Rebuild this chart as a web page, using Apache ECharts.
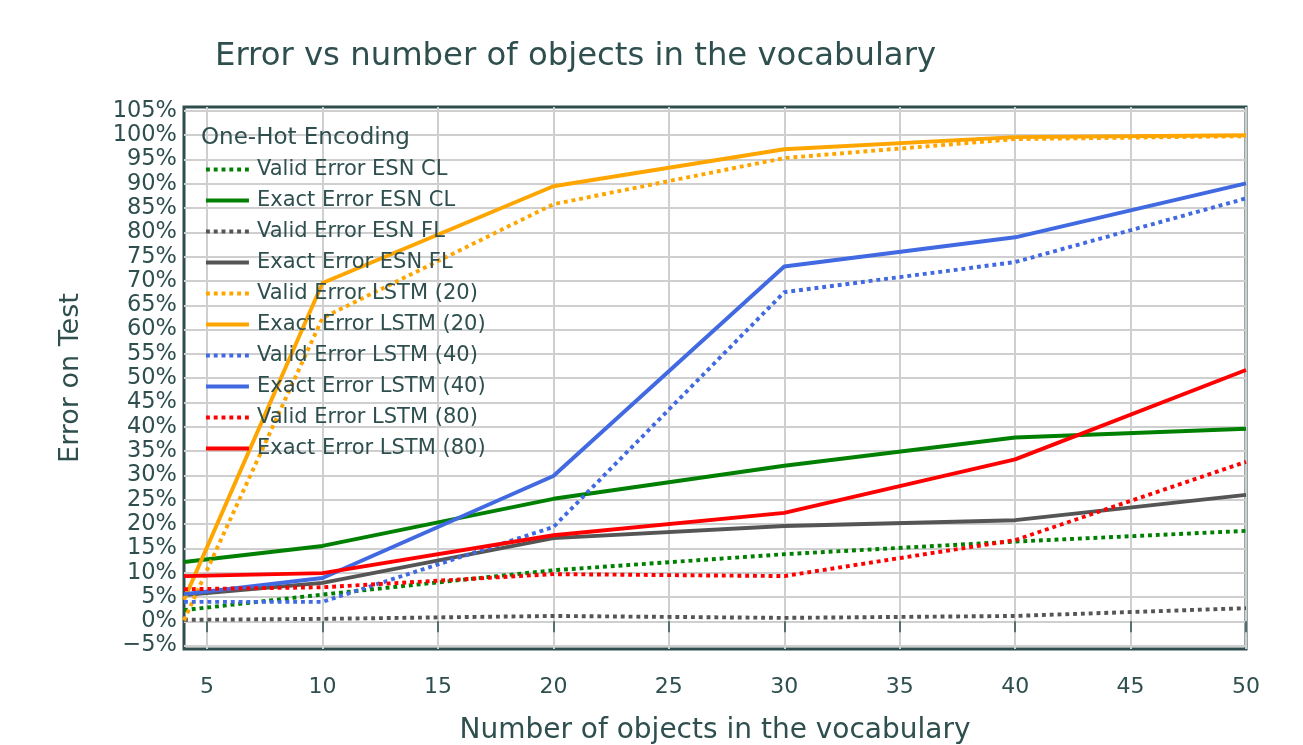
<!DOCTYPE html>
<html>
<head>
<meta charset="utf-8">
<script src="https://cdn.jsdelivr.net/npm/echarts@6/dist/echarts.min.js"></script>
<style>
html,body{margin:0;padding:0;background:#fff;overflow:hidden;}
#c{width:1303px;height:745px;}
</style>
</head>
<body>
<div id="c"></div>
<script>
const objects = [4, 10, 20, 30, 40, 50];
const validEsnCl  = [2.3, 5.5, 10.5, 13.8, 16.4, 18.6];
const exactEsnCl  = [12.2, 15.5, 25.2, 32.0, 37.8, 39.6];
const validEsnFl  = [0.3, 0.5, 1.1, 0.7, 1.1, 2.7];
const exactEsnFl  = [5.4, 7.9, 17.1, 19.6, 20.8, 26.0];
const validLstm20 = [0.2, 62.4, 85.8, 95.3, 99.2, 99.8];
const exactLstm20 = [4.4, 69.6, 89.5, 97.1, 99.6, 100];
const validLstm40 = [4.0, 4.0, 19.4, 67.7, 73.9, 87.0];
const exactLstm40 = [5.6, 8.9, 29.9, 73.0, 79.0, 90.1];
const validLstm80 = [6.6, 7.0, 9.7, 9.3, 16.7, 32.8];
const exactLstm80 = [9.3, 9.9, 17.7, 22.3, 33.3, 51.7];

const xTicks = [5, 10, 15, 20, 25, 30, 35, 40, 45, 50];
const yTicks = [-5, 0, 5, 10, 15, 20, 25, 30, 35, 40, 45, 50, 55, 60, 65, 70, 75, 80, 85, 90, 95, 100, 105];

const TXT = '#2F4F4F';
const FONT = 'DejaVu Sans';
const LW = 3.9;

const seriesDefs = [
  ['Valid Error ESN CL', validEsnCl, '#008000', 'dot'],
  ['Exact Error ESN CL', exactEsnCl, '#008000', 'solid'],
  ['Valid Error ESN FL', validEsnFl, '#555555', 'dot'],
  ['Exact Error ESN FL', exactEsnFl, '#555555', 'solid'],
  ['Valid Error LSTM (20)', validLstm20, '#FFA500', 'dot'],
  ['Exact Error LSTM (20)', exactLstm20, '#FFA500', 'solid'],
  ['Valid Error LSTM (40)', validLstm40, '#4169E1', 'dot'],
  ['Exact Error LSTM (40)', exactLstm40, '#4169E1', 'solid'],
  ['Valid Error LSTM (80)', validLstm80, '#FF0000', 'dot'],
  ['Exact Error LSTM (80)', exactLstm80, '#FF0000', 'solid']
];

const series = seriesDefs.map(([name, vals, color, dash]) => ({
  name: name,
  type: 'line',
  data: objects.map((x, i) => [x, vals[i]]),
  showSymbol: false,
  symbol: 'none',
  color: color,
  lineStyle: {
    color: color,
    width: LW,
    type: dash === 'dot' ? [LW, LW] : 'solid',
    cap: 'butt'
  },
  emphasis: { disabled: true }
}));

const chart = echarts.init(document.getElementById('c'), null, { renderer: 'canvas' });
chart.setOption({
  animation: false,
  backgroundColor: '#ffffff',
  textStyle: { fontFamily: FONT, color: TXT },
  title: [
    {
      text: 'Error vs number of objects in the vocabulary',
      left: 210, top: 36,
      textStyle: { fontFamily: FONT, fontSize: 32.3, fontWeight: 'normal', color: TXT }
    },
    {
      text: 'One-Hot Encoding',
      left: 196, top: 122,
      textStyle: { fontFamily: FONT, fontSize: 23, fontWeight: 'normal', color: TXT }
    }
  ],
  legend: {
    orient: 'vertical',
    left: 199, top: 154,
    itemWidth: 43, itemHeight: 14, itemGap: 10,
    itemStyle: { opacity: 0 },
    lineStyle: { width: LW },
    textStyle: { fontFamily: FONT, fontSize: 21, color: TXT, padding: [0, 0, 0, 3] },
    data: seriesDefs.map(d => d[0])
  },
  grid: {
    left: 184, right: 57, top: 107, bottom: 96,
    outerBoundsMode: 'none',
    show: true, borderColor: TXT, borderWidth: 3, backgroundColor: '#ffffff',
    containLabel: false
  },
  xAxis: {
    type: 'value',
    min: 4, max: 50,
    name: 'Number of objects in the vocabulary',
    nameLocation: 'middle', nameGap: 68,
    nameTextStyle: { fontFamily: FONT, fontSize: 28, color: TXT },
    axisLine: { show: false },
    axisTick: { show: true, length: 11, inside: false, customValues: xTicks, lineStyle: { color: TXT, width: 1.5 } },
    axisLabel: { customValues: xTicks, fontFamily: FONT, fontSize: 22, color: TXT, margin: 27 },
    splitLine: { show: true, customValues: xTicks, lineStyle: { color: '#cfcfcf', width: 2 } }
  },
  yAxis: {
    type: 'value',
    min: -5.7, max: 105.8,
    name: 'Error on Test',
    nameLocation: 'middle', nameGap: 100,
    nameTextStyle: { fontFamily: FONT, fontSize: 27, color: TXT },
    axisLine: { show: false },
    axisTick: { show: false, customValues: yTicks },
    axisLabel: {
      customValues: yTicks, fontFamily: FONT, fontSize: 22.5, color: TXT, margin: 7,
      formatter: v => (v < 0 ? '\u2212' + (-v) : String(v)) + '%'
    },
    splitLine: { show: true, customValues: yTicks, lineStyle: { color: '#cfcfcf', width: 2 } }
  },
  series: series
});
</script>
</body>
</html>
